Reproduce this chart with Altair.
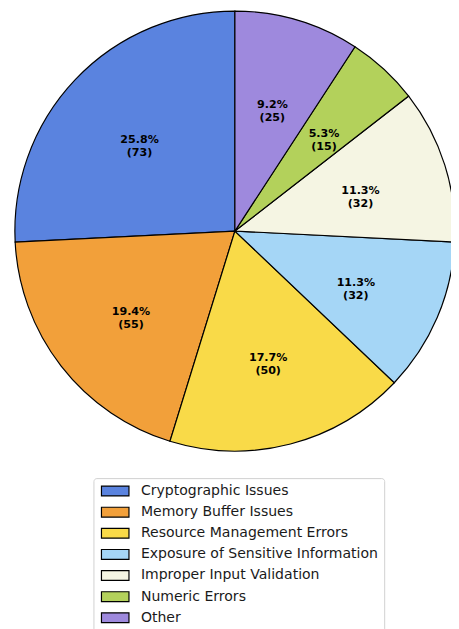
import altair as alt
import pandas as pd

categories = ["Cryptographic Issues", "Memory Buffer Issues", "Resource Management Errors",
              "Exposure of Sensitive Information", "Improper Input Validation",
              "Numeric Errors", "Other"]
values = [73, 55, 50, 32, 32, 15, 26]
shown_counts = [73, 55, 50, 32, 32, 15, 25]
colors = ["#5a83df", "#f2a03a", "#f9da48", "#a5d6f6", "#f5f5e3", "#b3d15b", "#9e89dd"]

total = sum(values)
df = pd.DataFrame({
    "category": categories,
    "value": values,
    "order": list(range(len(categories), 0, -1)),
    "label": [f"{v / total * 100:.1f}%\n({c})" for v, c in zip(values, shown_counts)],
})

CX, CY, R = 231, 221.5, 224

base = alt.Chart(df).encode(
    theta=alt.Theta("value:Q", stack=True),
    order=alt.Order("order:Q", sort="ascending"),
    x=alt.value(CX),
    y=alt.value(CY),
)

pie = base.mark_arc(outerRadius=R, stroke="black", strokeWidth=1.2).encode(
    color=alt.Color(
        "category:N",
        sort=categories,
        scale=alt.Scale(domain=categories, range=colors),
        legend=alt.Legend(
            title=None,
            orient="none",
            legendX=87,
            legendY=473,
            symbolType="M-2.8,-1H2.8V1H-2.8Z",
            symbolSize=100,
            symbolStrokeColor="black",
            symbolStrokeWidth=1.2,
            symbolOpacity=1,
            symbolOffset=9,
            labelFont="DejaVu Sans",
            labelFontSize=14.3,
            labelColor="#1a1a1a",
            labelOffset=19,
            labelLimit=400,
            rowPadding=5.5,
            padding=6,
            fillColor="white",
            strokeColor="#d0d0d0",
            cornerRadius=3,
        ),
    )
)

text = base.mark_text(
    radius=134, font="DejaVu Sans", fontWeight="bold", fontSize=11.3,
    lineBreak="\n", lineHeight=13, color="black", align="center", baseline="middle",
).encode(text="label:N")

chart = (pie + text).properties(
    width=451, height=621,
    autosize=alt.AutoSizeParams(type="none"),
    padding=0,
).configure_view(stroke=None)

chart.save("out.html", embed_options={"renderer": "svg", "actions": False})
